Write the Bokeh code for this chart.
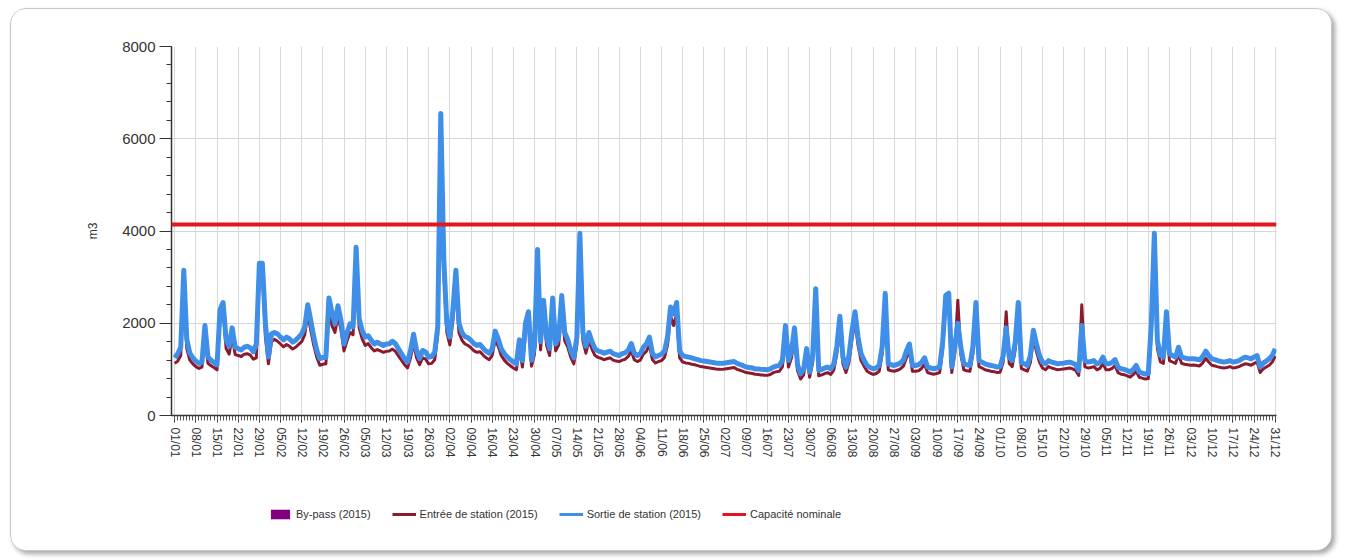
import math
from bokeh.plotting import figure
from bokeh.layouts import column
from bokeh.models import (Range1d, FixedTicker, SingleIntervalTicker, Span, Legend,
                          LegendItem, ColumnDataSource)
from bokeh.embed import file_html
from bokeh.resources import INLINE

# ---------------- data (2015, daily volumes in m3) ----------------
tick_labels = ["01/01", "08/01", "15/01", "22/01", "29/01", "05/02", "12/02", "19/02", "26/02",
               "05/03", "12/03", "19/03", "26/03", "02/04", "09/04", "16/04", "23/04", "30/04",
               "07/05", "14/05", "21/05", "28/05", "04/06", "11/06", "18/06", "25/06", "02/07",
               "09/07", "16/07", "23/07", "30/07", "06/08", "13/08", "20/08", "27/08", "03/09",
               "10/09", "17/09", "24/09", "01/10", "08/10", "15/10", "22/10", "29/10", "05/11",
               "12/11", "19/11", "26/11", "03/12", "10/12", "17/12", "24/12", "31/12"]

sortie = [
    1250, 1340, 1480, 3150, 1650, 1350, 1250, 1180, 1130, 1150,
    1950, 1270, 1200, 1150, 1100, 2300, 2450, 1650, 1500, 1900,
    1480, 1450, 1420, 1480, 1500, 1470, 1380, 1550, 3300, 3300,
    2000, 1270, 1770, 1800, 1770, 1700, 1640, 1700, 1660, 1590,
    1630, 1700, 1770, 1920, 2400, 2060, 1700, 1410, 1230, 1260,
    1260, 2550, 2240, 1990, 2380, 2060, 1550, 1800, 1990, 1920,
    3650, 2100, 1840, 1700, 1730, 1630, 1550, 1590, 1550, 1520,
    1550, 1555, 1610, 1555, 1445, 1340, 1230, 1160, 1410, 1760,
    1410, 1230, 1410, 1375, 1265, 1280, 1375, 1930, 6550, 3380,
    1990, 1700, 2280, 3150, 2000, 1800, 1710, 1685, 1630, 1555,
    1520, 1540, 1460, 1395, 1350, 1445, 1830, 1660, 1445, 1340,
    1265, 1210, 1160, 1120, 1640, 1190, 1990, 2250, 1200, 1500,
    3600, 1600, 2500, 1700, 1450, 2550, 1550, 1700, 2600, 1800,
    1650, 1400, 1250, 1700, 3950, 1800, 1500, 1800, 1600, 1450,
    1400, 1380, 1350, 1375, 1395, 1340, 1320, 1300, 1340, 1360,
    1420, 1560, 1350, 1300, 1340, 1480, 1550, 1700, 1350, 1270,
    1300, 1330, 1400, 1700, 2350, 2200, 2450, 1400, 1300, 1280,
    1265, 1250, 1230, 1210, 1190, 1180, 1170, 1160, 1150, 1140,
    1135, 1130, 1140, 1150, 1160, 1170, 1130, 1105, 1080, 1050,
    1040, 1030, 1010, 1010, 1000, 995, 990, 1010, 1050, 1070,
    1085, 1200, 1950, 1190, 1400, 1900, 1100, 900, 1000, 1450,
    940, 1300, 2750, 975, 1000, 1030, 1050, 1010, 1120, 1500,
    2150, 1265, 1050, 1300, 1840, 2250, 1700, 1340, 1200, 1085,
    1040, 1012, 1030, 1085, 1500, 2650, 1120, 1100, 1085, 1110,
    1135, 1200, 1400, 1550, 1085, 1085, 1100, 1150, 1250, 1050,
    1030, 1012, 1030, 1050, 1600, 2600, 2650, 1050, 1500, 2000,
    1480, 1120, 1100, 1085, 1500, 2450, 1190, 1157, 1120, 1100,
    1085, 1070, 1050, 1060, 1300, 1900, 1265, 1190, 1600, 2450,
    1150, 1120, 1085, 1300, 1850, 1555, 1300, 1157, 1120, 1190,
    1157, 1140, 1120, 1130, 1135, 1150, 1157, 1135, 1100, 975,
    1950, 1190, 1157, 1170, 1190, 1120, 1150, 1265, 1120, 1120,
    1150, 1210, 1050, 1012, 1000, 975, 940, 1000, 1085, 940,
    920, 900, 910, 1990, 3950, 1630, 1300, 1265, 2250, 1340,
    1300, 1265, 1480, 1265, 1250, 1230, 1230, 1230, 1220, 1210,
    1280, 1395, 1300, 1230, 1210, 1190, 1170, 1157, 1170, 1190,
    1157, 1170, 1190, 1230, 1265, 1250, 1230, 1270, 1300, 1050,
    1135, 1180, 1230, 1300, 1445,
]

entree = [
    1130, 1180, 1300, 2900, 1450, 1200, 1120, 1060, 1020, 1050,
    1750, 1130, 1080, 1040, 990, 2100, 2300, 1450, 1330, 1700,
    1320, 1300, 1280, 1330, 1340, 1310, 1220, 1250, 3050, 3100,
    1700, 1120, 1600, 1650, 1610, 1550, 1490, 1540, 1500, 1440,
    1480, 1540, 1600, 1750, 2200, 1850, 1520, 1260, 1090, 1110,
    1120, 2300, 1950, 1800, 2150, 1850, 1400, 1620, 1800, 1750,
    3400, 1900, 1660, 1520, 1560, 1470, 1400, 1430, 1400, 1370,
    1390, 1400, 1440, 1390, 1290, 1200, 1100, 1030, 1250, 1580,
    1250, 1100, 1250, 1220, 1120, 1130, 1210, 1750, 6300, 3150,
    1800, 1530, 2050, 2900, 1800, 1630, 1550, 1520, 1470, 1400,
    1370, 1380, 1310, 1250, 1210, 1300, 1650, 1500, 1300, 1200,
    1130, 1080, 1030, 990, 1450, 1050, 1780, 2050, 1070, 1330,
    3350, 1420, 2250, 1520, 1300, 2300, 1400, 1530, 2350, 1620,
    1480, 1260, 1120, 1530, 3700, 1620, 1350, 1620, 1440, 1300,
    1260, 1240, 1210, 1230, 1250, 1200, 1180, 1170, 1200, 1220,
    1280, 1400, 1210, 1170, 1200, 1330, 1390, 1530, 1210, 1140,
    1170, 1190, 1260, 1530, 2150, 1950, 2200, 1250, 1160, 1140,
    1130, 1110, 1100, 1080, 1060, 1050, 1040, 1030, 1020, 1010,
    1005, 1000, 1010, 1020, 1030, 1040, 1000, 980, 955, 930,
    920, 910, 895, 890, 880, 875, 870, 890, 930, 950,
    960, 1060, 1750, 1050, 1250, 1700, 970, 790, 880, 1300,
    830, 1150, 2550, 860, 880, 910, 930, 890, 990, 1340,
    1950, 1120, 930, 1150, 1650, 2050, 1520, 1190, 1070, 960,
    920, 890, 910, 960, 1340, 2450, 990, 970, 960, 980,
    1010, 1070, 1250, 1400, 960, 960, 970, 1020, 1110, 930,
    910, 895, 910, 930, 1430, 2400, 2450, 930, 1350, 2500,
    1320, 990, 970, 960, 1340, 2250, 1060, 1030, 990, 975,
    960, 950, 930, 940, 1160, 2250, 1130, 1060, 1430, 2250,
    1020, 990, 960, 1150, 1680, 1390, 1160, 1030, 990, 1060,
    1030, 1010, 990, 1000, 1010, 1020, 1030, 1010, 975, 870,
    2400, 1060, 1030, 1040, 1060, 990, 1020, 1130, 990, 990,
    1020, 1080, 930, 895, 885, 860, 830, 885, 960, 830,
    810, 790, 800, 1800, 3750, 1450, 1160, 1130, 2050, 1190,
    1160, 1130, 1320, 1130, 1110, 1100, 1090, 1095, 1085, 1075,
    1140, 1240, 1160, 1090, 1075, 1055, 1040, 1030, 1040, 1060,
    1030, 1040, 1060, 1090, 1120, 1110, 1090, 1130, 1160, 930,
    1010, 1050, 1090, 1160, 1290,
]

bypass = [0] * 365          # no by-pass volume visible in 2015
capacite_nominale = 4140    # nominal capacity (m3/day)

days = list(range(len(sortie)))
assert len(sortie) == 365 and len(entree) == 365
tick_days = list(range(0, 365, 7))
assert len(tick_days) == len(tick_labels)

src = ColumnDataSource(dict(day=days, sortie=sortie, entree=entree,
                            bypass=bypass, zero=[0] * len(days)))

FONT = "Liberation Sans"
C_BYPASS, C_ENTREE, C_SORTIE, C_CAP = "#800080", "#8b1a2e", "#3f8fe8", "#e3161d"

p = figure(width=1320, height=461,
           x_range=Range1d(-1.06, 364.4), y_range=Range1d(0, 8000),
           output_backend="svg", toolbar_location=None,
           min_border_left=160, min_border_right=55,
           min_border_top=37, min_border_bottom=55)
p.outline_line_color = None
p.background_fill_color = "white"
p.border_fill_color = "white"

# grids
p.xgrid.ticker = FixedTicker(ticks=tick_days)
p.xgrid.grid_line_color = "#d9d9d9"
p.ygrid.ticker = FixedTicker(ticks=[2000, 4000, 6000, 8000])
p.ygrid.grid_line_color = "#d6d6d6"

# x axis
p.xaxis.ticker = FixedTicker(ticks=tick_days, minor_ticks=days)
p.xaxis.major_label_overrides = {d: lab for d, lab in zip(tick_days, tick_labels)}
p.xaxis.major_label_orientation = -math.pi / 2
p.xaxis.major_label_text_font = FONT
p.xaxis.major_label_text_font_size = "12px"
p.xaxis.major_label_text_color = "#333333"
p.xaxis.major_label_standoff = 5
p.xaxis.major_tick_out = 7
p.xaxis.major_tick_in = 0
p.xaxis.minor_tick_out = 5
p.xaxis.minor_tick_in = 0
p.xaxis.axis_line_color = "#333333"
p.xaxis.axis_line_width = 1.5
p.xaxis.major_tick_line_color = "#333333"
p.xaxis.minor_tick_line_color = "#555555"

# y axis
p.yaxis.ticker = SingleIntervalTicker(interval=2000, num_minor_ticks=5)
p.yaxis.axis_label = "m3"
p.yaxis.axis_label_text_font = FONT
p.yaxis.axis_label_text_font_size = "12px"
p.yaxis.axis_label_text_font_style = "normal"
p.yaxis.axis_label_text_color = "#333333"
p.yaxis.axis_label_standoff = 19
p.yaxis.major_label_text_font = FONT
p.yaxis.major_label_text_font_size = "15px"
p.yaxis.major_label_text_color = "#333333"
p.yaxis.major_label_standoff = 4
p.yaxis.major_tick_out = 12
p.yaxis.major_tick_in = 0
p.yaxis.minor_tick_out = 5
p.yaxis.minor_tick_in = 0
p.yaxis.axis_line_color = "#333333"
p.yaxis.axis_line_width = 1.5
p.yaxis.major_tick_line_color = "#333333"
p.yaxis.minor_tick_line_color = "#333333"

# series
p.varea(x="day", y1="zero", y2="bypass", source=src, fill_color=C_BYPASS)
p.line(x="day", y="entree", source=src, line_color=C_ENTREE, line_width=3, line_join="round")
p.line(x="day", y="sortie", source=src, line_color=C_SORTIE, line_width=5, line_join="round")
p.add_layout(Span(location=capacite_nominale, dimension="width", line_color=C_CAP,
                  line_width=4))

# ---- legend strip (separate figure under the chart) ----
leg = figure(width=1320, height=80, x_range=Range1d(0, 1), y_range=Range1d(0, 1),
             x_axis_type=None, y_axis_type=None, output_backend="svg",
             toolbar_location=None, min_border=0)
leg.outline_line_color = None
leg.border_fill_color = "white"
# one off-range point each, only so that the legend can draw its swatches
lr_bypass = leg.varea(x=[5], y1=[5], y2=[5], fill_color=C_BYPASS)
lr_entree = leg.line(x=[5], y=[5], line_color=C_ENTREE, line_width=3)
lr_sortie = leg.line(x=[5], y=[5], line_color=C_SORTIE, line_width=3)
lr_cap = leg.line(x=[5], y=[5], line_color=C_CAP, line_width=3)

legend = Legend(items=[
    LegendItem(label="By-pass (2015)", renderers=[lr_bypass]),
    LegendItem(label="Entrée de station (2015)", renderers=[lr_entree]),
    LegendItem(label="Sortie de station (2015)", renderers=[lr_sortie]),
    LegendItem(label="Capacité nominale", renderers=[lr_cap]),
], orientation="horizontal", location=(97, 30))
legend.border_line_color = None
legend.background_fill_alpha = 0
legend.padding = 0
legend.margin = 0
legend.spacing = 21
legend.glyph_width = 24
legend.glyph_height = 12
legend.label_standoff = 4
legend.label_text_font = FONT
legend.label_text_font_size = "11px"
legend.label_text_color = "#333333"
leg.add_layout(legend)

layout = column(p, leg, spacing=0)
layout.styles = {"margin-left": "10px", "margin-top": "8px",
                 "border": "1px solid #c8c8c8", "border-radius": "16px",
                 "box-shadow": "3px 3px 5px rgba(0,0,0,0.35)", "overflow": "hidden",
                 "background": "white"}

open("out.html", "w").write(file_html(layout, INLINE))
